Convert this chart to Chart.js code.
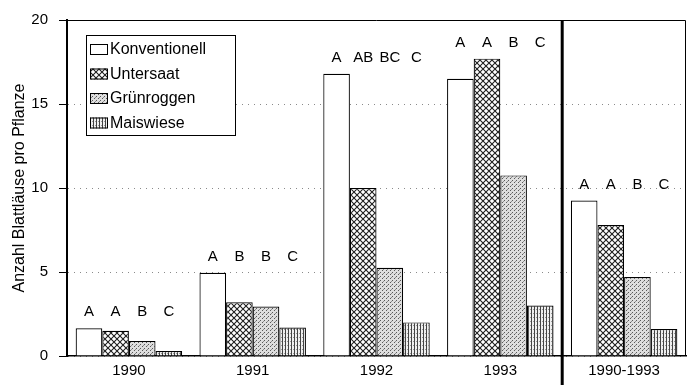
<!DOCTYPE html>
<html>
<head>
<meta charset="utf-8">
<script src="https://cdn.jsdelivr.net/npm/chart.js@4.4.1/dist/chart.umd.min.js"></script>
<style>
html, body { margin: 0; padding: 0; background: #fff; }
</style>
</head>
<body>
<canvas id="aphidChart" width="692" height="385"></canvas>
<script>
var years = ['1990', '1991', '1992', '1993', '1990-1993'];
var konventionell = [1.65, 4.95, 16.8, 16.5, 9.25];
var untersaat = [1.5, 3.2, 10.0, 17.7, 7.8];
var gruenroggen = [0.9, 2.95, 5.25, 10.75, 4.7];
var maiswiese = [0.3, 1.7, 2.0, 3.0, 1.6];
var konvLetters = ['A', 'A', 'A', 'A', 'A'];
var untersLetters = ['A', 'B', 'AB', 'A', 'A'];
var gruenLetters = ['B', 'B', 'BC', 'B', 'B'];
var maisLetters = ['C', 'C', 'C', 'C', 'C'];
var yTicks = [0, 5, 10, 15, 20];

var FONT = "'Liberation Sans', Arial, Helvetica, sans-serif";

// fill patterns that imitate the hatchings of the print
function makePattern(kind) {
    var c = document.createElement('canvas');
    var g;
    if (kind === 'cross') {
        c.width = 6; c.height = 6;
        g = c.getContext('2d');
        g.fillStyle = '#fff';
        g.fillRect(0, 0, 6, 6);
        g.strokeStyle = '#1e1e1e';
        g.lineWidth = 1.1;
        g.beginPath();
        g.moveTo(0, 0); g.lineTo(6, 6);
        g.moveTo(6, 0); g.lineTo(0, 6);
        g.stroke();
    } else if (kind === 'dots') {
        c.width = 4; c.height = 4;
        g = c.getContext('2d');
        g.fillStyle = '#dedede';
        g.fillRect(0, 0, 4, 4);
        g.fillStyle = '#5a5a5a';
        g.fillRect(0, 0, 1, 1);
        g.fillRect(2, 2, 1, 1);
        g.fillStyle = '#909090';
        g.fillRect(3, 1, 1, 1);
    } else {
        c.width = 3; c.height = 4;
        g = c.getContext('2d');
        g.fillStyle = '#efefef';
        g.fillRect(0, 0, 3, 4);
        g.fillStyle = '#444';
        g.fillRect(0, 0, 1, 4);
        g.fillStyle = '#999';
        g.fillRect(2, 1, 1, 1);
    }
    return g.createPattern(c, 'repeat');
}

var ctx = document.getElementById('aphidChart').getContext('2d');

var fills = ['#ffffff', makePattern('cross'), makePattern('dots'), makePattern('vlines')];
var letterSets = [konvLetters, untersLetters, gruenLetters, maisLetters];

var framePlugin = {
    id: 'frame',
    afterDatasetsDraw: function(chart) {
        var c = chart.ctx;
        var ys = chart.scales.y;

        // significance letters above the bars
        c.save();
        c.font = '15px ' + FONT;
        c.fillStyle = '#000';
        c.textAlign = 'center';
        c.textBaseline = 'middle';
        for (var i = 0; i < years.length; i++) {
            var top = Math.max(konventionell[i], untersaat[i], gruenroggen[i], maiswiese[i]);
            var ty = ys.getPixelForValue(top) - 16;
            for (var d = 0; d < 4; d++) {
                var bar = chart.getDatasetMeta(d).data[i];
                c.fillText(letterSets[d][i], bar.x, ty);
            }
        }
        c.restore();
    },
    afterDraw: function(chart) {
        var c = chart.ctx;
        var area = chart.chartArea;
        var xs = chart.scales.x;

        c.save();
        c.strokeStyle = '#000';
        c.lineWidth = 1;
        c.beginPath();
        c.moveTo(area.left, area.top + 0.5);
        c.lineTo(area.right - 0.5, area.top + 0.5);
        c.lineTo(area.right - 0.5, area.bottom);
        c.stroke();

        // separator between the single years and the mean
        var sx = (xs.getPixelForValue(3) + xs.getPixelForValue(4)) / 2;
        c.lineWidth = 3;
        c.beginPath();
        c.moveTo(sx, area.top);
        c.lineTo(sx, chart.height);
        c.stroke();

        // legend box
        var lx = 86, ly = 35, lw = 149, lh = 100;
        c.fillStyle = '#fff';
        c.fillRect(lx, ly, lw, lh);
        c.lineWidth = 1;
        c.strokeRect(lx + 0.5, ly + 0.5, lw, lh);
        c.font = '16px ' + FONT;
        c.textBaseline = 'middle';
        c.textAlign = 'left';
        chart.data.datasets.forEach(function(ds, k) {
            var ry = ly + 14 + k * 24.5;
            c.fillStyle = ds.backgroundColor;
            c.fillRect(lx + 4, ry - 5, 18, 11);
            c.strokeStyle = '#000';
            c.strokeRect(lx + 4.5, ry - 4.5, 17, 10);
            c.fillStyle = '#000';
            c.fillText(ds.label, lx + 24, ry + 1);
        });
        c.restore();
    }
};

var aphidChart = new Chart(ctx, {
    type: 'bar',
    data: {
        labels: years,
        datasets: [
            { label: 'Konventionell', data: konventionell, backgroundColor: fills[0] },
            { label: 'Untersaat', data: untersaat, backgroundColor: fills[1] },
            { label: 'Grünroggen', data: gruenroggen, backgroundColor: fills[2] },
            { label: 'Maiswiese', data: maiswiese, backgroundColor: fills[3] }
        ]
    },
    options: {
        responsive: false,
        animation: false,
        devicePixelRatio: 1,
        layout: { padding: { top: 16, right: 6, left: 0, bottom: 0 } },
        datasets: {
            bar: {
                borderColor: '#000',
                borderWidth: 1.2,
                categoryPercentage: 0.86,
                barPercentage: 1.0
            }
        },
        plugins: {
            legend: { display: false },
            tooltip: { enabled: false }
        },
        scales: {
            x: {
                grid: { display: false, drawTicks: false },
                border: { display: true, color: '#000', width: 1.5 },
                ticks: { color: '#000', padding: 6, font: { family: FONT, size: 15 } },
                afterFit: function(scale) { scale.height = 29; }
            },
            y: {
                min: 0,
                max: 20,
                afterBuildTicks: function(scale) {
                    scale.ticks = yTicks.map(function(v) { return { value: v }; });
                },
                grid: {
                    color: '#8a8a8a',
                    lineWidth: 1,
                    tickColor: '#000',
                    tickLength: 8
                },
                border: { display: true, color: '#000', width: 2, dash: [1, 5] },
                ticks: { color: '#000', padding: 11, font: { family: FONT, size: 15 } },
                title: {
                    display: true,
                    text: 'Anzahl Blattläuse pro Pflanze',
                    color: '#000',
                    font: { family: FONT, size: 16 },
                    padding: { top: 10, bottom: 0 }
                },
                afterFit: function(scale) { scale.width = 67; }
            }
        }
    },
    plugins: [framePlugin]
});
</script>
</body>
</html>
